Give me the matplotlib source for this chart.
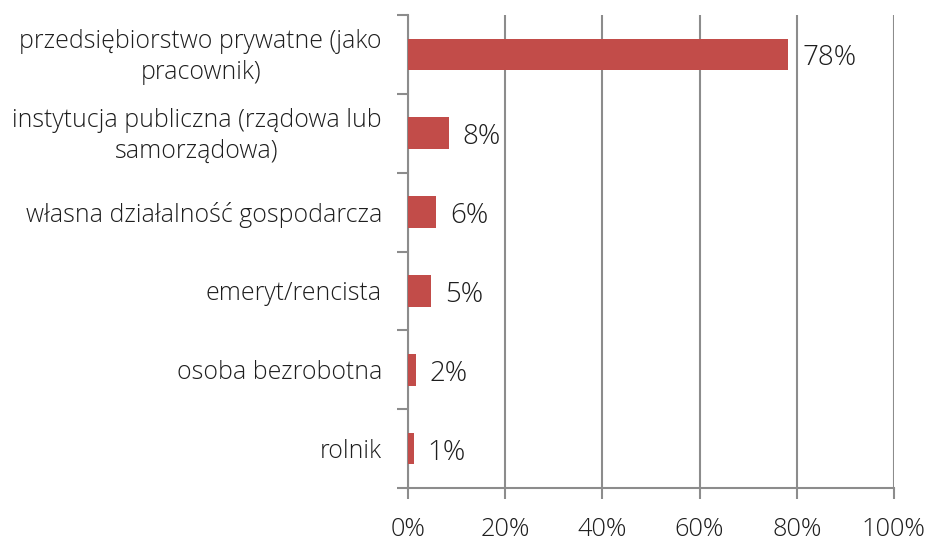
import matplotlib
matplotlib.use("Agg")
import matplotlib.pyplot as plt
from matplotlib.ticker import FixedLocator, PercentFormatter
from matplotlib.transforms import blended_transform_factory, offset_copy

categories = [
    "przedsiębiorstwo prywatne (jako\npracownik)",
    "instytucja publiczna (rządowa lub\nsamorządowa)",
    "własna działalność gospodarcza",
    "emeryt/rencista",
    "osoba bezrobotna",
    "rolnik",
]
values = [78.2, 8.4, 5.8, 4.8, 1.6, 1.2]
labels = ["78%", "8%", "6%", "5%", "2%", "1%"]
xticks = [0, 20, 40, 60, 80, 100]

plt.rcParams['font.family'] = ['Open Sans', 'DejaVu Sans']
plt.rcParams['font.weight'] = 'light'
text_color = "#1e1e1e"
cat_size = 17.9
tick_size = 18.3
val_size = 20

fig = plt.figure(figsize=(9.28, 5.41), dpi=100)
ax = fig.add_axes([408/928, 53/541, 486/928, 473/541])

n = len(categories)
pos = list(range(n))
ax.barh(pos, values, height=0.4, color="#C24C49", zorder=3)
ax.set_ylim(n - 0.5, -0.5)
ax.set_xlim(0, 100)

grid_color = "#8C8C8C"
ax.xaxis.set_major_locator(FixedLocator(xticks))
ax.xaxis.set_major_formatter(PercentFormatter(decimals=0))
ax.grid(axis="x", color=grid_color, linewidth=1.5, zorder=0)

ax.yaxis.set_major_locator(FixedLocator([i - 0.5 for i in range(n + 1)]))
ax.yaxis.set_major_formatter(plt.NullFormatter())
ax.tick_params(axis="y", which="major", length=8, width=1.5, color=grid_color, direction="out")
ax.tick_params(axis="x", which="major", length=8, width=1.5, color=grid_color, direction="out",
               labelsize=tick_size, labelcolor=text_color, pad=13)

for s in ["top", "right"]:
    ax.spines[s].set_visible(False)
for s in ["left", "bottom"]:
    ax.spines[s].set_color(grid_color)
    ax.spines[s].set_linewidth(1.5)

for p, v, t in zip(pos, values, labels):
    ax.annotate(t, xy=(v, p), xytext=(14, -4), textcoords="offset pixels",
                va="center", ha="left", fontsize=val_size, color=text_color, zorder=4)

fig.canvas.draw()
renderer = fig.canvas.get_renderer()
trans = offset_copy(blended_transform_factory(fig.transFigure, ax.transData),
                    fig=fig, x=0, y=-3, units="dots")
for p, c in zip(pos, categories):
    t = ax.text(0, p, c, transform=trans, ha="center", va="center", multialignment="center",
                fontsize=cat_size, color=text_color, linespacing=1.32)
    bb = t.get_window_extent(renderer)
    t.set_x((382 - bb.width / 2) / 928)

fig.savefig("out.png", dpi=100)
